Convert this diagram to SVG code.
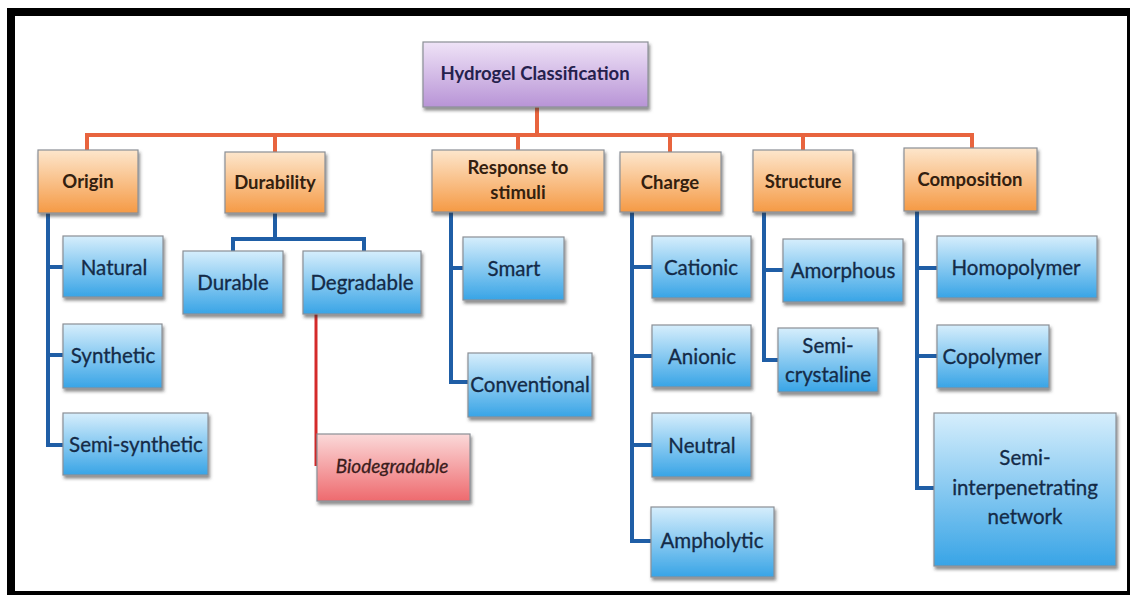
<svg xmlns="http://www.w3.org/2000/svg" width="1130" height="595" viewBox="0 0 1130 595">
<defs>
<linearGradient id="gPurple" x1="0" y1="0" x2="0" y2="1"><stop offset="0" stop-color="#efe3f7"/><stop offset="1" stop-color="#b894d6"/></linearGradient>
<linearGradient id="gOrange" x1="0" y1="0" x2="0" y2="1"><stop offset="0" stop-color="#fde6cc"/><stop offset="1" stop-color="#f59a45"/></linearGradient>
<linearGradient id="gBlue" x1="0" y1="0" x2="0" y2="1"><stop offset="0" stop-color="#d6eefc"/><stop offset="1" stop-color="#38a4e6"/></linearGradient>
<linearGradient id="gRed" x1="0" y1="0" x2="0" y2="1"><stop offset="0" stop-color="#fbd9d9"/><stop offset="1" stop-color="#ee6a6e"/></linearGradient>
<filter id="sh" x="-10%" y="-10%" width="130%" height="140%"><feDropShadow dx="1.5" dy="3" stdDeviation="1.5" flood-color="#333" flood-opacity="0.55"/></filter>
</defs>
<style>
.box{stroke:#8a8f96;stroke-width:1.2;filter:url(#sh)}
.p{fill:url(#gPurple)}
.o{fill:url(#gOrange)}
.b{fill:url(#gBlue)}
.r{fill:url(#gRed)}
text{font-family:Lato,"Open Sans","Liberation Sans",sans-serif;text-anchor:middle;dominant-baseline:central}
.tr{font-size:18.5px;font-weight:bold;fill:#25214d}
.to{font-size:18.5px;font-weight:bold;fill:#33200f}
.tb{font-size:20.5px;fill:#142b48;stroke:#142b48;stroke-width:0.3}
.ti{font-size:19px;font-style:italic;fill:#3a1c1c;stroke:#3a1c1c;stroke-width:0.3}
.co{fill:none;stroke:#e8643e;stroke-width:4}
.cb{fill:none;stroke:#1f5ea6;stroke-width:4}
.cr{fill:none;stroke:#d42a2a;stroke-width:3}
</style>
<rect x="0" y="0" width="1130" height="595" fill="#ffffff"/>
<path d="M7,8 H1130 V595 H7 Z M15,16 V591 H1127 V16 Z" fill="#000" fill-rule="evenodd"/>

<g id="connectors">
<path class="co" d="M537,107 V135 M87,150 V135 H972 V148 M275,135 V152 M518,135 V150 M670,135 V152 M803,135 V150"/>
<path class="cb" d="M48,213 V445 H63 M48,267 H63 M48,355 H63"/>
<path class="cb" d="M275,213 V239 M233,251 V239 H364 V251"/>
<path class="cb" d="M451,212 V382 H468 M451,268 H463"/>
<path class="cb" d="M632,212 V541 H651 M632,267 H652 M632,356 H652 M632,445 H652"/>
<path class="cb" d="M764,212 V360 H778 M764,270 H783"/>
<path class="cb" d="M917,211 V488 H934 M917,268 H937 M917,356 H937"/>
<path class="cr" d="M316,314 V466"/>
</g>

<g id="root"><rect class="box p" x="423" y="42" width="225" height="65"/><text class="tr" x="535" y="73">Hydrogel Classification</text></g>

<g id="origin"><rect class="box o" x="38" y="150" width="100" height="63"/><text class="to" x="88" y="181">Origin</text></g>
<g id="durability"><rect class="box o" x="225" y="152" width="100" height="61"/><text class="to" x="275" y="182">Durability</text></g>
<g id="response"><rect class="box o" x="432" y="150" width="172" height="62"/><text class="to" x="518" y="167">Response to</text><text class="to" x="518" y="192">stimuli</text></g>
<g id="charge"><rect class="box o" x="620" y="152" width="101" height="60"/><text class="to" x="670" y="182">Charge</text></g>
<g id="structure"><rect class="box o" x="753" y="150" width="100" height="62"/><text class="to" x="803" y="181">Structure</text></g>
<g id="composition"><rect class="box o" x="904" y="148" width="133" height="63"/><text class="to" x="970" y="179">Composition</text></g>

<g id="natural"><rect class="box b" x="63" y="236" width="100" height="61"/><text class="tb" x="114" y="267">Natural</text></g>
<g id="synthetic"><rect class="box b" x="63" y="324" width="99" height="64"/><text class="tb" x="113" y="355">Synthetic</text></g>
<g id="semisynthetic"><rect class="box b" x="63" y="413" width="145" height="62"/><text class="tb" x="136" y="444">Semi-synthetic</text></g>

<g id="durable"><rect class="box b" x="183" y="251" width="100" height="63"/><text class="tb" x="233" y="282">Durable</text></g>
<g id="degradable"><rect class="box b" x="303" y="251" width="118" height="63"/><text class="tb" x="362" y="282">Degradable</text></g>
<g id="biodegradable"><rect class="box r" x="317" y="434" width="153" height="67"/><text class="ti" x="392" y="465">Biodegradable</text></g>

<g id="smart"><rect class="box b" x="463" y="237" width="101" height="63"/><text class="tb" x="514" y="268">Smart</text></g>
<g id="conventional"><rect class="box b" x="468" y="353" width="124" height="64"/><text class="tb" x="530" y="384">Conventional</text></g>

<g id="cationic"><rect class="box b" x="652" y="236" width="99" height="62"/><text class="tb" x="701" y="267">Cationic</text></g>
<g id="anionic"><rect class="box b" x="652" y="325" width="99" height="62"/><text class="tb" x="702" y="356">Anionic</text></g>
<g id="neutral"><rect class="box b" x="652" y="413" width="99" height="64"/><text class="tb" x="702" y="445">Neutral</text></g>
<g id="ampholytic"><rect class="box b" x="651" y="507" width="123" height="70"/><text class="tb" x="712" y="540">Ampholytic</text></g>

<g id="amorphous"><rect class="box b" x="783" y="239" width="120" height="63"/><text class="tb" x="843" y="270">Amorphous</text></g>
<g id="semicrystaline"><rect class="box b" x="778" y="328" width="100" height="64"/><text class="tb" x="828" y="345">Semi-</text><text class="tb" x="828" y="374">crystaline</text></g>

<g id="homopolymer"><rect class="box b" x="937" y="236" width="160" height="62"/><text class="tb" x="1016" y="267">Homopolymer</text></g>
<g id="copolymer"><rect class="box b" x="937" y="325" width="112" height="63"/><text class="tb" x="992" y="356">Copolymer</text></g>
<g id="semiipn"><rect class="box b" x="934" y="413" width="182" height="153"/><text class="tb" x="1025" y="457">Semi-</text><text class="tb" x="1025" y="487">interpenetrating</text><text class="tb" x="1025" y="516">network</text></g>
</svg>
